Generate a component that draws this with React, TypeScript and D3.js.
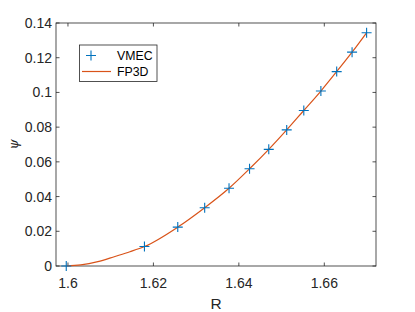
import { useEffect, useRef } from "react"
import * as d3 from "d3"

// VMEC points
const vmecR = [1.5996, 1.6179, 1.6257, 1.632, 1.6377, 1.6425, 1.647, 1.6512, 1.6552, 1.6592, 1.6629, 1.6665, 1.6699]
const vmecPsi = [0, 0.0112, 0.0224, 0.0336, 0.0448, 0.056, 0.0672, 0.0784, 0.0896, 0.1008, 0.112, 0.1232, 0.1344]

// FP3D curve, sampled along the drawn line
const fpR = [1.5996, 1.603, 1.607, 1.611, 1.6145, 1.6179, 1.6257, 1.632, 1.6377, 1.6425, 1.647, 1.6512, 1.6552, 1.6592, 1.6629, 1.6665, 1.6699]
const fpPsi = [0, 0.0006, 0.0025, 0.0055, 0.0082, 0.0112, 0.0224, 0.0336, 0.0448, 0.056, 0.0672, 0.0784, 0.0896, 0.1008, 0.112, 0.1232, 0.1344]

const xTicks = [1.6, 1.62, 1.64, 1.66]
const yTicks = [0, 0.02, 0.04, 0.06, 0.08, 0.1, 0.12, 0.14]
const legendItems = ["VMEC", "FP3D"]

const W = 415
const H = 312
const left = 56, right = 376, top = 23, bottom = 266
const blue = "#0072BD"
const orange = "#D95319"
const axisColor = "#262626"
const font = "'Liberation Sans', Arial, sans-serif"

export default function App() {
  const ref = useRef<SVGSVGElement>(null)

  useEffect(() => {
    const svg = d3.select(ref.current)
    svg.selectAll("*").remove()

    const x = d3.scaleLinear().domain([1.5972, 1.6721]).range([left, right])
    const y = d3.scaleLinear().domain([0, 0.14]).range([bottom, top])
    const tk = 3.5

    svg.append("rect").attr("width", W).attr("height", H).attr("fill", "#fff")

    // axes box
    svg.append("rect")
      .attr("x", left).attr("y", top)
      .attr("width", right - left).attr("height", bottom - top)
      .attr("fill", "none").attr("stroke", axisColor).attr("stroke-width", 0.8)

    const g = svg.append("g").attr("stroke", axisColor).attr("stroke-width", 0.8)
    xTicks.forEach((t) => {
      const px = x(t)
      g.append("line").attr("x1", px).attr("x2", px).attr("y1", bottom).attr("y2", bottom - tk)
      g.append("line").attr("x1", px).attr("x2", px).attr("y1", top).attr("y2", top + tk)
    })
    yTicks.forEach((t) => {
      const py = y(t)
      g.append("line").attr("x1", left).attr("x2", left + tk).attr("y1", py).attr("y2", py)
      g.append("line").attr("x1", right).attr("x2", right - tk).attr("y1", py).attr("y2", py)
    })

    svg.append("g").selectAll("text").data(xTicks).enter().append("text")
      .attr("x", (d) => x(d)).attr("y", 288)
      .attr("text-anchor", "middle")
      .attr("font-family", font).attr("font-size", 14).attr("fill", axisColor)
      .text((d) => d3.format("")(d))

    svg.append("g").selectAll("text").data(yTicks).enter().append("text")
      .attr("x", 52).attr("y", (d) => y(d) + 5)
      .attr("text-anchor", "end")
      .attr("font-family", font).attr("font-size", 14).attr("fill", axisColor)
      .text((d) => d3.format("")(d))

    svg.append("text")
      .attr("x", (left + right) / 2).attr("y", 308.5)
      .attr("text-anchor", "middle")
      .attr("font-family", font).attr("font-size", 15.5).attr("fill", axisColor)
      .text("R")

    svg.append("text")
      .attr("transform", `translate(18,${(top + bottom) / 2}) rotate(-90)`)
      .attr("text-anchor", "middle")
      .attr("font-family", "'DejaVu Serif', serif").attr("font-style", "italic")
      .attr("font-size", 13).attr("fill", axisColor)
      .text("ψ")

    // FP3D line
    const line = d3.line<number>()
      .x((_, i) => x(fpR[i]))
      .y((d) => y(d))
      .curve(d3.curveMonotoneX)
    svg.append("path")
      .datum(fpPsi)
      .attr("d", line)
      .attr("fill", "none").attr("stroke", orange).attr("stroke-width", 1.2)

    // VMEC markers
    const ms = 5
    const plus = (cx: number, cy: number) => `M${cx - ms},${cy}H${cx + ms}M${cx},${cy - ms}V${cy + ms}`
    svg.append("g").selectAll("path").data(vmecPsi).enter().append("path")
      .attr("d", (d, i) => plus(x(vmecR[i]), y(d)))
      .attr("stroke", blue).attr("stroke-width", 1.1).attr("fill", "none")

    // legend
    const lg = svg.append("g")
    lg.append("rect")
      .attr("x", 79.5).attr("y", 45).attr("width", 77.5).attr("height", 36.5)
      .attr("fill", "#fff").attr("stroke", axisColor).attr("stroke-width", 0.8)
    legendItems.forEach((name, i) => {
      const ly = 55.5 + i * 16
      if (i === 0) lg.append("path").attr("d", plus(91, ly)).attr("stroke", blue).attr("stroke-width", 1.1)
      else lg.append("line").attr("x1", 82).attr("x2", 111).attr("y1", ly).attr("y2", ly)
        .attr("stroke", orange).attr("stroke-width", 1.2)
      lg.append("text")
        .attr("x", 117).attr("y", ly + 4.5)
        .attr("font-family", font).attr("font-size", 12.3).attr("fill", "#000")
        .text(name)
    })
  }, [])

  return (
    <div style={{ position: "fixed", left: 0, top: 0 }}>
      <svg ref={ref} width={W} height={H} style={{ display: "block" }} />
    </div>
  )
}
